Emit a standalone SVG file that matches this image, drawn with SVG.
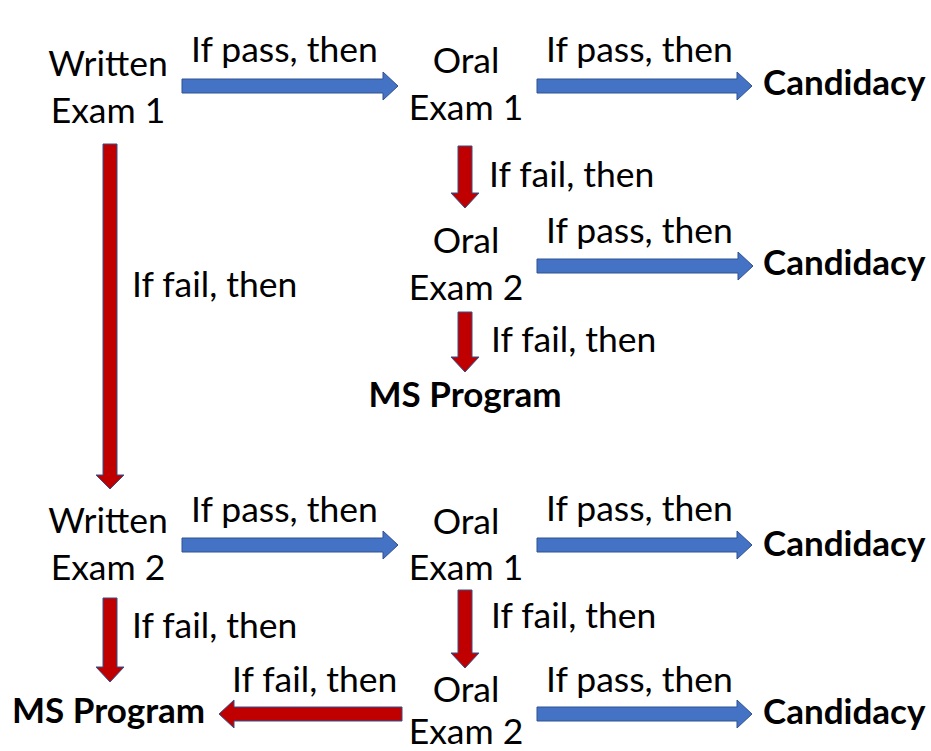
<svg xmlns="http://www.w3.org/2000/svg" width="931" height="751" viewBox="0 0 931 751">
<style>
text{font-family:Lato,"Liberation Sans",sans-serif;font-size:35.5px;fill:#000}
.b{font-weight:bold;font-size:35px}
.m{text-anchor:middle}
.blue{fill:#4472C4;stroke:#2F528F;stroke-width:1}
.red{fill:#C00000;stroke:#2F528F;stroke-width:1}
</style>
<rect width="931" height="751" fill="#fff"/>
<g id="connectors">
<polygon class="blue" points="182,79 383,79 383,72 398,86 383,100 383,93 182,93"/>
<polygon class="blue" points="537,79 737,79 737,72 752,86 737,100 737,93 537,93"/>
<polygon class="blue" points="537,259 738,259 738,252 753,266 738,280 738,273 537,273"/>
<polygon class="blue" points="182,538 383,538 383,531 398,545 383,559 383,552 182,552"/>
<polygon class="blue" points="537,538 737,538 737,531 752,545 737,559 737,552 537,552"/>
<polygon class="blue" points="537,707 737,707 737,700 752,714 737,728 737,721 537,721"/>
<polygon class="red" points="103,144 117,144 117,475 124,475 110,489 96,475 103,475"/>
<polygon class="red" points="458,146 472,146 472,193 479,193 465,208 451,193 458,193"/>
<polygon class="red" points="458,312 472,312 472,357 479,357 465,372 451,357 458,357"/>
<polygon class="red" points="103,598 117,598 117,667 124,667 110,682 96,667 103,667"/>
<polygon class="red" points="458,590 472,590 472,653 479,653 465,668 451,653 458,653"/>
<polygon class="red" points="402,707 234,707 234,700 219,714 234,728 234,721 402,721"/>
<text x="191" y="62">If pass, then</text>
<text x="546" y="62">If pass, then</text>
<text x="489" y="187">If fail, then</text>
<text x="546" y="243">If pass, then</text>
<text x="132" y="297">If fail, then</text>
<text x="491" y="352">If fail, then</text>
<text x="191" y="522">If pass, then</text>
<text x="546" y="521">If pass, then</text>
<text x="132" y="638">If fail, then</text>
<text x="491" y="628">If fail, then</text>
<text x="232" y="692">If fail, then</text>
<text x="546" y="692">If pass, then</text>
</g>
<g id="written1"><text class="m" x="108" y="76">Written</text><text class="m" x="108" y="123">Exam 1</text></g>
<g id="oral1a"><text class="m" x="466" y="73">Oral</text><text class="m" x="466" y="120">Exam 1</text></g>
<g id="cand1"><text class="b" x="763" y="95">Candidacy</text></g>
<g id="oral2a"><text class="m" x="466" y="253">Oral</text><text class="m" x="466" y="300">Exam 2</text></g>
<g id="cand2"><text class="b" x="763" y="275">Candidacy</text></g>
<g id="ms1"><text class="b m" x="465" y="407">MS Program</text></g>
<g id="written2"><text class="m" x="108" y="533">Written</text><text class="m" x="108" y="580">Exam 2</text></g>
<g id="oral1b"><text class="m" x="466" y="534">Oral</text><text class="m" x="466" y="580">Exam 1</text></g>
<g id="cand3"><text class="b" x="763" y="556">Candidacy</text></g>
<g id="oral2b"><text class="m" x="466" y="702">Oral</text><text class="m" x="466" y="744">Exam 2</text></g>
<g id="cand4"><text class="b" x="763" y="724">Candidacy</text></g>
<g id="ms2"><text class="b" x="12" y="723">MS Program</text></g>
</svg>
